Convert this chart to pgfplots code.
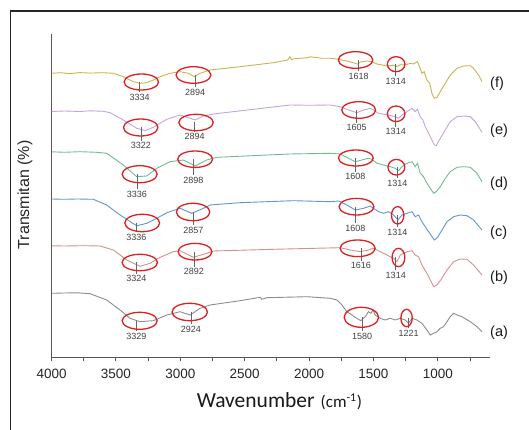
\documentclass[border=0pt]{standalone}
\usepackage{fontspec}
\setmainfont{Liberation Sans}
\newfontfamily\calibri{Carlito}
\usepackage{pgfplots}
\pgfplotsset{compat=1.18}

\definecolor{cf}{RGB}{201,178,82}
\definecolor{ce}{RGB}{196,164,218}
\definecolor{cd}{RGB}{112,186,146}
\definecolor{cc}{RGB}{96,150,205}
\definecolor{cb}{RGB}{218,142,142}
\definecolor{ca}{RGB}{140,140,140}
\definecolor{ellred}{RGB}{222,32,32}
\definecolor{axgray}{RGB}{85,85,85}

% peak mark: ellipse centre (wn,y), radii, label (wn,y), tick end y, text
\newcommand{\pk}[8]{%
  \draw[black!60, line width=0.7pt] (axis cs:#5,#2) -- (axis cs:#5,#7);
  \draw[ellred, line width=1.3pt] (axis cs:#1,#2) ellipse [x radius=#3pt, y radius=#4pt];
  \node[text=black!75, font=\fontsize{9}{10}\selectfont, inner sep=0pt] at (axis cs:#5,#6) {#8};
}

\begin{document}
\begin{tikzpicture}[x=1pt,y=1pt]
\begin{axis}[
    scale only axis, width=438.4pt, height=323.3pt,
    x dir=reverse, xmin=595, xmax=4000, ymin=0, ymax=323.3,
    axis x line*=bottom, axis y line*=left,
    axis line style={axgray, line width=1.3pt},
    ytick=\empty,
    xtick={1000,1500,2000,2500,3000,3500,4000},
    xticklabels={1000,1500,2000,2500,3000,3500,4000},
    minor xtick={750,1250,1750,2250,2750,3250,3750},
    tick align=outside,
    major tick length=4pt, minor tick length=4pt,
    tick style={axgray, line width=1pt},
    xticklabel style={font=\fontsize{13.5}{15}\selectfont, text=black!85, yshift=-4.5pt},
    clip=false,
    every axis plot/.append style={line width=0.9pt},
]
\coordinate (O) at (axis cs:4000,0);
% (f)
\addplot[cf] coordinates {(4000,284.0) (3930,284.6) (3860,283.7) (3780,284.7) (3700,284.2) (3600,284.6) (3520,284.0)
 (3443,280.6) (3365,275.6) (3313,274.0) (3261,274.6) (3210,277.3) (3157,280.6) (3080,284.0) (3002,285.6)
 (2938,284.0) (2891,280.6) (2847,284.0) (2769,287.3) (2536,290.6) (2277,294.6) (2180,297.0) (2165,297.5)
 (2150,300.5) (2135,297.5) (2121,298.5) (2017,299.5) (1990,300.5) (1900,299.0) (1836,299.0) (1772,298.0)
 (1706,296.3) (1642,294.0) (1619,293.0) (1603,295.3) (1551,296.3) (1512,295.6) (1473,293.3) (1434,292.3)
 (1396,291.3) (1344,292.0) (1318,290.6) (1292,292.6) (1253,292.3) (1214,294.0) (1189,293.3) (1158,295.6)
 (1142,290.6) (1124,284.0) (1106,285.6) (1085,277.3) (1064,274.0) (1046,264.0) (1028,259.0) (1007,260.0)
 (981,265.6) (942,274.0) (904,282.3) (851,289.0) (800,291.3) (748,291.6) (723,289.0) (684,282.3) (657,275.6)};
% (e)
\addplot[ce] coordinates {(4000,245.8) (3900,246.3) (3780,245.8) (3700,246.5) (3600,246.0) (3546,244.6)
 (3443,237.3) (3339,229.0) (3274,226.6) (3210,230.0) (3105,238.0) (3002,242.3) (2885,237.3) (2821,241.3)
 (2743,243.3) (2147,252.3) (2000,252.0) (1836,252.3) (1758,250.6) (1694,247.3) (1629,244.6) (1577,247.3)
 (1525,249.0) (1500,247.3) (1461,244.0) (1422,243.0) (1383,242.3) (1331,240.6) (1305,239.0) (1279,242.3)
 (1240,245.6) (1201,249.0) (1176,245.6) (1158,248.0) (1137,240.6) (1116,237.3) (1098,230.6) (1072,224.0)
 (1046,217.3) (1028,212.3) (1013,211.6) (981,219.0) (942,227.3) (904,235.6) (851,240.6) (800,241.3)
 (748,240.6) (709,235.6) (657,225.0)};
% (d)
\addplot[cd] coordinates {(4000,205.5) (3900,205.0) (3779,205.6) (3650,205.0) (3572,204.0) (3443,192.3)
 (3339,180.6) (3261,181.3) (3183,189.0) (3080,195.6) (2976,197.3) (2885,191.3) (2795,197.3) (2717,200.0)
 (2147,203.3) (1836,204.0) (1758,203.3) (1694,199.0) (1642,195.6) (1590,197.3) (1539,199.0) (1512,198.0)
 (1473,194.0) (1422,192.3) (1370,190.6) (1331,189.0) (1305,186.6) (1279,190.6) (1240,194.0) (1201,195.6)
 (1176,190.6) (1158,194.0) (1137,184.0) (1111,180.6) (1085,174.0) (1059,169.0) (1033,164.0) (1013,165.6)
 (981,170.6) (942,179.0) (904,185.6) (851,190.0) (800,190.6) (748,190.0) (696,184.0) (657,175.6)};
% (c)
\addplot[cc] coordinates {(4000,158.3) (3900,158.0) (3800,158.3) (3676,158.0) (3572,152.3) (3468,142.3)
 (3339,131.5) (3261,134.0) (3183,139.0) (3105,144.6) (3002,149.0) (2911,144.0) (2821,149.0) (2769,152.3)
 (2536,154.6) (2121,156.6) (1836,155.6) (1772,156.3) (1706,152.3) (1642,147.3) (1577,149.0) (1525,151.3)
 (1500,149.0) (1461,145.6) (1422,144.0) (1383,145.6) (1344,142.3) (1310,137.3) (1279,142.3) (1240,144.0)
 (1201,145.6) (1176,140.6) (1150,142.3) (1124,135.6) (1098,130.6) (1072,125.6) (1046,120.6) (1026,117.3)
 (1002,120.0) (968,127.3) (929,135.6) (878,140.6) (826,142.3) (774,141.6) (723,137.3) (657,127.3)};
% (b)
\addplot[cb] coordinates {(4000,111.5) (3900,111.3) (3750,111.6) (3624,111.3) (3520,107.3) (3416,97.3)
 (3313,91.0) (3235,94.0) (3157,100.0) (3054,105.6) (3002,106.6) (2899,100.0) (2795,104.0) (2743,106.3)
 (2277,108.0) (1758,109.6) (1681,107.3) (1603,105.6) (1539,107.3) (1500,109.0) (1448,105.6) (1396,102.3)
 (1344,99.0) (1318,95.6) (1292,102.3) (1240,105.6) (1201,106.6) (1176,102.3) (1150,100.6) (1124,92.3)
 (1085,84.0) (1059,77.3) (1033,70.6) (1007,72.3) (968,79.0) (929,87.3) (878,95.6) (826,98.3) (774,98.0)
 (723,92.3) (657,82.3)};
% (a)
\addplot[ca] coordinates {(4000,64.0) (3900,64.3) (3800,64.5) (3702,63.6) (3572,57.3) (3468,47.3)
 (3391,39.0) (3313,35.6) (3210,36.6) (3105,42.3) (3002,45.6) (2924,42.3) (2847,49.0) (2769,52.3)
 (2536,56.6) (2380,60.0) (2367,58.0) (2328,59.6) (2017,60.6) (1836,59.0) (1784,57.3) (1745,52.3)
 (1706,45.6) (1668,42.3) (1629,39.0) (1598,36.6) (1564,40.6) (1539,45.6) (1520,44.0) (1504,47.3)
 (1487,42.3) (1448,39.0) (1409,37.3) (1370,39.0) (1331,37.3) (1292,39.0) (1253,37.3) (1227,34.0)
 (1201,39.0) (1163,37.3) (1124,34.0) (1085,27.3) (1059,22.3) (1033,24.0) (1007,25.6) (981,29.0)
 (956,30.6) (929,35.6) (904,40.6) (878,44.0) (851,42.3) (813,40.6) (748,35.6) (696,30.6) (657,25.6)};

% peak annotations
\pk{3303}{275.3}{17.2}{8}{3316}{260}{265}{3334}
\pk{2898}{282.3}{17.4}{8.3}{2886}{265.3}{270.3}{2894}
\pk{1639}{297.3}{17.2}{8.3}{1615}{281.3}{286.3}{1618}
\pk{1324}{293.1}{8.8}{7.5}{1327}{276}{281}{1314}
\pk{3308}{229.8}{17.2}{8.5}{3306}{211.6}{216.6}{3322}
\pk{2878}{234.8}{17.2}{8.2}{2889}{220.6}{225.6}{2894}
\pk{1615}{247.3}{16.9}{8.3}{1631}{229.6}{234.6}{1605}
\pk{1324}{243.5}{8.8}{7.8}{1327}{225.6}{230.6}{1314}
\pk{3316}{183.1}{17.5}{8.5}{3337}{163.3}{168.3}{3336}
\pk{2885}{198.1}{17.4}{8.2}{2899}{177.3}{182.3}{2898}
\pk{1637}{199.3}{17.4}{8}{1641}{180.6}{185.6}{1608}
\pk{1322}{190.1}{8.4}{7.8}{1314}{174}{179}{1314}
\pk{3296}{134.3}{17.4}{8.7}{3342}{120}{125}{3336}
\pk{2901}{145.3}{16.7}{8.7}{2899}{127.3}{132.3}{2857}
\pk{1632}{150.6}{17.4}{8.3}{1641}{129}{134}{1608}
\pk{1312}{142}{6.2}{8.7}{1314}{125}{130}{1314}
\pk{3315}{94.8}{17.7}{8.2}{3342}{78.6}{83.6}{3324}
\pk{2886}{105.6}{16.9}{8.3}{2894}{85.6}{90.6}{2892}
\pk{1623}{109}{17.5}{8.3}{1597}{91.6}{96.6}{1616}
\pk{1306}{99.8}{6.4}{9.2}{1327}{82}{87}{1314}
\pk{3316}{36.5}{17.5}{8.5}{3342}{21.3}{26.3}{3329}
\pk{2927}{45.3}{17.7}{8.7}{2918}{28.3}{33.3}{2924}
\pk{1594}{40}{17.2}{10}{1589}{21.3}{26.3}{1580}
\pk{1243}{39.3}{5.7}{8.7}{1227}{24}{29}{1221}
\end{axis}

% everything else in image coordinates (x right, y down as negative), origin at image top-left
\begin{scope}[shift={(O)}, xshift=-51.6pt, yshift=357.3pt]
\draw[black!85, line width=1.3pt] (10.5,-440) -- (10.5,-11) -- (540,-11);
\begin{scope}[every node/.style={anchor=west, inner sep=0pt, text=black!90, font=\fontsize{14.5}{16}\selectfont}]
\node at (490,-84.2) {(f)};
\node at (490,-131) {(e)};
\node at (490,-184) {(d)};
\node at (490,-232.5) {(c)};
\node at (490,-278) {(b)};
\node at (490,-332.5) {(a)};
\end{scope}
\node[rotate=90, inner sep=0pt, text=black!85, font=\fontsize{16}{18}\selectfont] at (25,-195) {Transmitan (\%)};
\node[anchor=base west, inner sep=0pt, text=black!90] at (196.7,-407.3)
  {{\calibri\fontsize{21.5}{24}\selectfont Wavenumber}\hspace{6pt}{\calibri\fontsize{17}{20}\selectfont (cm\textsuperscript{-1})}};
\pgfresetboundingbox
\path[use as bounding box] (0,0) rectangle (529,-430);
\end{scope}
\end{tikzpicture}
\end{document}
